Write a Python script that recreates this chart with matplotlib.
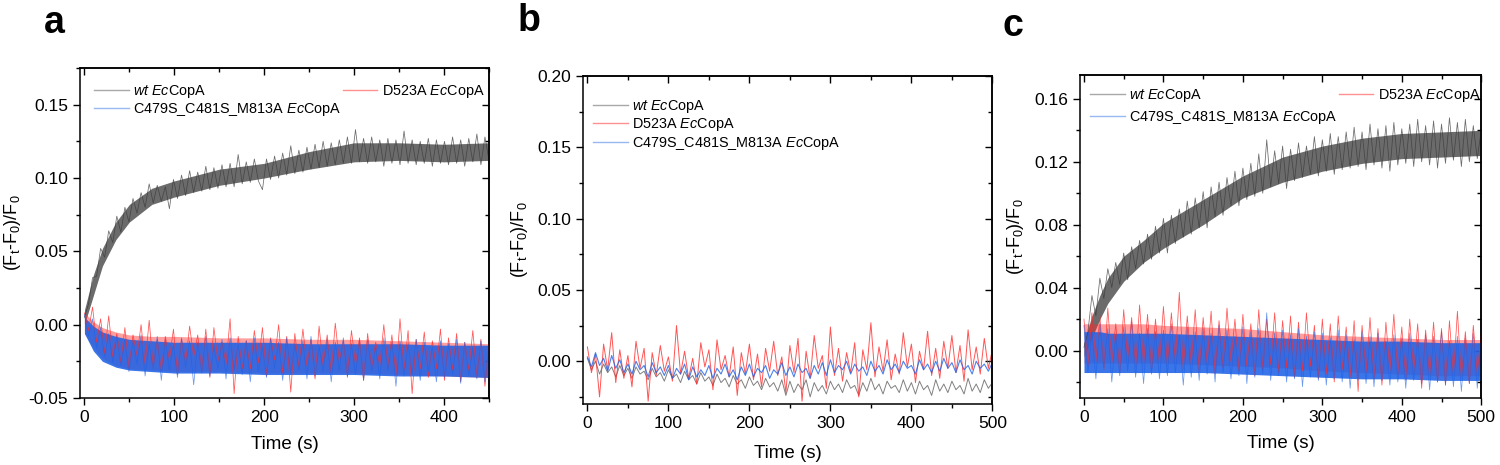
import numpy as np
import matplotlib
matplotlib.use("Agg")
import matplotlib.pyplot as plt
from matplotlib.lines import Line2D
from matplotlib.ticker import MultipleLocator, NullFormatter, FormatStrFormatter

plt.rcParams['font.family'] = ['Liberation Sans', 'DejaVu Sans']
plt.rcParams['mathtext.fontset'] = 'custom'
plt.rcParams['mathtext.rm'] = 'Liberation Sans'
plt.rcParams['mathtext.it'] = 'Liberation Sans:italic'

# ---------------- data (values in units of 1e-3) ----------------
series_names = ["wt", "D523A", "C479S_C481S_M813A"]

time_a = np.arange(0, 451, 4.5)
wt_a = [5, 14, 32, 33, 52, 46, 64, 56, 74, 63, 80, 70, 86, 76, 90, 80, 96, 83, 95, 84,
        94, 79, 99, 86, 102, 88, 105, 90, 104, 91, 108, 92, 107, 93, 109, 94, 110, 94, 116, 96,
        111, 97, 113, 98, 92, 113, 99, 115, 100, 117, 102, 122, 103, 119, 104, 121, 106, 123, 107, 125,
        108, 124, 109, 126, 110, 128, 110, 133, 111, 127, 110, 128, 111, 126, 108, 127, 110, 126, 109, 132,
        110, 126, 109, 125, 110, 127, 108, 126, 110, 125, 109, 128, 110, 126, 108, 127, 111, 130, 109, 128, 112]
d523a_a = [8, -4, 12, -12, 4, -20, 6, -22, -6, -26, -2, -30, -7, -21, 0, -27, 3, -29, -10, -32,
           -8, -24, -3, -34, -10, -26, -1, -22, -7, -32, -3, -36, -2, -25, -12, -27, 4, -47, -8, -30,
           -11, -30, -4, -26, -2, -35, -9, -24, 0, -33, -8, -46, -6, -29, -3, -28, -10, -37, -1, -28,
           -7, -33, 1, -25, -11, -35, -4, -27, -9, -38, -6, -30, -12, -28, 0, -29, -7, -35, 4, -31,
           -4, -47, -10, -30, -5, -36, -11, -30, -3, -38, -9, -31, -6, -39, -12, -31, -4, -36, -10, -42, -13]
triple_a = [7, -8, 4, -16, -2, -22, -6, -26, -8, -28,
            -10, -32, -11, -27, -7, -35, -13, -30, -8, -38,
            -10, -31, -14, -36, -9, -29, -11, -41, -12, -33,
            -8, -35, -15, -30, -10, -37, -9, -31, -13, -34,
            -11, -39, -9, -32, -15, -36, -10, -30, -12, -38,
            -9, -34, -13, -31, -11, -37, -8, -35, -15, -32,
            -10, -39, -12, -31, -9, -36, -13, -34, -11, -38,
            -10, -32, -15, -37, -9, -31, -12, -42, -11, -35,
            -13, -34, -10, -38, -12, -32, -15, -39, -11, -36,
            -13, -34, -10, -40, -12, -35, -16, -37, -11, -39, -15]
band_t_a = [0, 10, 20, 35, 50, 75, 100, 150, 200, 250, 300, 350, 400, 450]
wt_a_lo = [0, 20, 40, 58, 70, 82, 87, 95, 100, 106, 111, 112, 111, 112]
wt_a_hi = [10, 34, 52, 70, 82, 93, 98, 106, 110, 118, 124, 124, 123, 124]
d523a_a_lo = [-6, -16, -23, -28, -30, -31, -32, -32, -33, -33, -33, -34, -35, -36]
d523a_a_hi = [8, 2, -2, -5, -7, -8, -8, -9, -9, -10, -10, -11, -12, -13]
triple_a_lo = [-6, -18, -25, -29, -31, -32, -33, -33, -34, -34, -34, -35, -35, -36]
triple_a_hi = [5, -1, -5, -8, -10, -11, -12, -12, -12, -13, -13, -13, -14, -14]

time_b = np.arange(0, 501, 5)
wt_b = [2, -6, 0, -9, -2, -8, -4, -11, -3, -10,
        -5, -12, -4, -9, -7, -13, -5, -11, -8, -14,
        -6, -12, -9, -15, -7, -13, -10, -16, -8, -14,
        -11, -17, -9, -15, -12, -18, -10, -16, -13, -19,
        -11, -17, -14, -20, -12, -18, -15, -21, -13, -24,
        -14, -22, -16, -20, -13, -25, -15, -21, -17, -23,
        -14, -20, -16, -22, -13, -19, -17, -24, -15, -21,
        -12, -20, -16, -23, -14, -19, -17, -22, -13, -21,
        -15, -23, -14, -20, -17, -24, -13, -21, -16, -22,
        -14, -20, -17, -23, -12, -21, -16, -22, -13, -19, -15]
d523a_b = [10, -8, 5, -25, 12, -6, 20, -15, 8, -12,
           4, -18, 14, -5, 9, -28, 6, -10, 11, -7,
           3, -14, 25, -9, 7, -12, 2, -16, 13, -4,
           8, -20, 15, -6, 4, -11, 10, -24, 6, -9,
           12, -13, 5, -18, 9, -7, 14, -10, 3, -22,
           11, -8, 16, -28, 7, -12, 18, -5, 4, -19,
           24, -10, 9, -14, 6, -8, 13, -25, 8, -6,
           27, -11, 10, -7, 15, -13, 5, -9, 20, -4,
           12, -15, 7, -6, 21, -10, 9, -12, 14, -5,
           18, -8, 11, -14, 22, -6, 10, -9, 16, -5, 8]
triple_b = [3, -4, 6, -3, 2, -7, 4, -5, 1, -8,
            -2, -9, 0, -6, -3, -11, -1, -8, -4, -10,
            -3, -12, -5, -9, -2, -13, -4, -11, -6, -10,
            -3, -12, -5, -9, -2, -11, -6, -13, -4, -10,
            -2, -11, -5, -8, -3, -12, -6, -9, -1, -10,
            -4, -11, -2, -8, -5, -12, -3, -9, -1, -10,
            1, -8, -3, -6, 0, -9, -2, -7, -4, -10,
            0, -7, -3, -9, 1, -6, -2, -8, 0, -5,
            -3, -9, 1, -6, -2, -8, 0, -7, 2, -5,
            -1, -8, 1, -6, -3, -9, 0, -5, -2, -7, -1]

time_c = np.arange(0, 501, 5)
wt_c = [2, 12, 35, 22, 46, 33, 52, 40, 56, 42,
        62, 45, 66, 52, 70, 55, 74, 58, 79, 62,
        84, 62, 86, 68, 90, 72, 95, 74, 97, 78,
        101, 78, 104, 85, 107, 86, 110, 92, 114, 92,
        116, 96, 119, 98, 125, 100, 134, 104, 127, 106,
        130, 103, 128, 108, 132, 110, 130, 112, 136, 111,
        134, 114, 138, 112, 136, 115, 139, 116, 142, 117,
        139, 115, 144, 118, 141, 116, 143, 114, 145, 118,
        141, 119, 144, 117, 147, 120, 143, 118, 146, 116,
        144, 119, 148, 121, 145, 117, 147, 120, 143, 122, 140]
d523a_c = [20, -10, 24, -7, 22, -12, 27, -8, 17, -14,
           26, -6, 21, -11, 29, -9, 23, -13, 20, -8,
           28, -10, 24, -7, 37, -12, 22, -9, 26, -14,
           21, -8, 25, -15, 19, -11, 27, -7, 20, -13,
           23, -10, 17, -16, 26, -12, 20, -9, 24, -14,
           19, -11, 22, -17, 18, -13, 24, -10, 16, -18,
           20, -15, 17, -20, 22, -12, 15, -17, 19, -26,
           16, -14, 21, -18, 14, -22, 18, -13, 23, -16,
           15, -19, 20, -14, 17, -24, 13, -17, 18, -20,
           14, -22, 19, -16, 25, -18, 12, -21, 16, -15, 11]
triple_c = [16, -14, 12, -18, 17, -11, 14, -20, 10, -16,
            15, -13, 18, -17, 11, -21, 14, -15, 12, -18,
            13, -16, 17, -14, 10, -22, 15, -17, 12, -19,
            14, -15, 11, -20, 16, -14, 13, -18, 9, -16,
            15, -21, 12, -17, 14, -15, 24, -19, 11, -16,
            13, -20, 10, -18, 14, -23, 9, -17, 12, -19,
            11, -22, 8, -18, 13, -20, 10, -24, 7, -19,
            12, -21, 9, -23, 11, -19, 6, -22, 10, -20,
            8, -24, 11, -19, 7, -21, 10, -25, 9, -20,
            12, -22, 6, -23, 9, -26, 8, -21, 11, -24, 7]
band_t_c = [0, 10, 20, 30, 50, 75, 100, 150, 200, 250, 300, 350, 400, 450, 500]
wt_c_lo = [-4, 8, 20, 30, 44, 56, 65, 80, 97, 107, 114, 119, 122, 123, 124]
wt_c_hi = [5, 22, 35, 46, 60, 70, 81, 96, 111, 123, 130, 135, 138, 139, 140]
d523a_c_lo = [-8, -8, -8, -8, -8, -8, -8, -9, -10, -11, -13, -14, -15, -16, -16]
d523a_c_hi = [17, 17, 17, 17, 17, 17, 16, 15, 14, 12, 10, 9, 8, 7, 7]
triple_c_lo = [-14, -14, -14, -14, -14, -14, -14, -14, -15, -16, -17, -18, -18, -19, -19]
triple_c_hi = [12, 12, 12, 11, 11, 11, 11, 10, 9, 8, 7, 6, 6, 5, 5]

S = 1e-3
GRAY, RED, BLUE = "#3a3a3a", "#ff2a2a", "#1e62e6"
labels = [r"$\it{wt}$ $\it{Ec}$CopA", r"D523A $\it{Ec}$CopA", r"C479S_C481S_M813A $\it{Ec}$CopA"]

fig = plt.figure(figsize=(15, 4.65), dpi=100)
pos = {
    'a': [0.0533, 0.1441, 0.2727, 0.7097],
    'b': [0.3889, 0.1312, 0.2727, 0.7054],
    'c': [0.7200, 0.1447, 0.2675, 0.6934],
}

def style(ax, xmaj, xmin, ymaj, ymin, yfmt):
    for sp in ax.spines.values():
        sp.set_linewidth(1.1)
    ax.xaxis.set_major_locator(MultipleLocator(xmaj))
    ax.xaxis.set_minor_locator(MultipleLocator(xmin))
    ax.yaxis.set_major_locator(MultipleLocator(ymaj))
    ax.yaxis.set_minor_locator(MultipleLocator(ymin))
    ax.yaxis.set_major_formatter(FormatStrFormatter(yfmt))
    ax.tick_params(which='major', direction='out', length=5, width=1.0, labelsize=12.5)
    ax.tick_params(which='minor', direction='out', length=3, width=1.0)
    sx = ax.secondary_xaxis('top')
    sy = ax.secondary_yaxis('right')
    for sa, axis in ((sx, sx.xaxis), (sy, sy.yaxis)):
        axis.set_major_locator(MultipleLocator(xmaj if sa is sx else ymaj))
        axis.set_minor_locator(MultipleLocator(xmin if sa is sx else ymin))
        axis.set_major_formatter(NullFormatter())
        sa.tick_params(which='major', direction='in', length=5, width=1.0)
        sa.tick_params(which='minor', direction='in', length=3, width=1.0)
        for sp in sa.spines.values():
            sp.set_linewidth(1.1)
    ax.set_xlabel("Time (s)", fontsize=13.5)
    ax.set_ylabel(r"(F$_\mathrm{t}$-F$_\mathrm{0}$)/F$_\mathrm{0}$", fontsize=13)

def legend_handles():
    return [Line2D([], [], color="#a8a8a8", lw=1.0),
            Line2D([], [], color="#ff9090", lw=1.0),
            Line2D([], [], color="#98b8f2", lw=1.0)]

def noisy_panel(ax, t, band_t, wt, wt_lo, wt_hi, red, red_lo, red_hi, blue, blue_lo, blue_hi):
    ax.fill_between(band_t, np.array(wt_lo) * S, np.array(wt_hi) * S, color=GRAY, lw=0, alpha=0.75)
    ax.plot(t, np.array(wt) * S, color=GRAY, lw=0.55, alpha=0.75)
    ax.fill_between(band_t, np.array(red_lo) * S, np.array(red_hi) * S, color=RED, lw=0, alpha=0.45)
    ax.plot(t, np.array(red) * S, color=RED, lw=0.55, alpha=0.8)
    ax.fill_between(band_t, np.array(blue_lo) * S, np.array(blue_hi) * S, color=BLUE, lw=0, alpha=0.88)
    ax.plot(t, np.array(blue) * S, color=BLUE, lw=0.55, alpha=0.65)

# ---------- panel a ----------
ax = fig.add_axes(pos['a'])
noisy_panel(ax, time_a, band_t_a, wt_a, wt_a_lo, wt_a_hi, d523a_a, d523a_a_lo, d523a_a_hi,
            triple_a, triple_a_lo, triple_a_hi)
ax.set_xlim(-5, 450)
ax.set_ylim(-0.05, 0.175)
style(ax, 100, 50, 0.05, 0.025, '%.2f')
h = legend_handles()
ax.legend([h[0], h[2], h[1]], [labels[0], labels[2], labels[1]], ncol=2, frameon=False,
          fontsize=10.4, loc='upper left', bbox_to_anchor=(0.01, 0.985), handlelength=2.4,
          handletextpad=0.3, columnspacing=0.1, labelspacing=0.1, borderaxespad=0.3)
ax.xaxis.set_label_coords(0.5, -0.115)
ax.yaxis.set_label_coords(-0.14, 0.5)
fig.text(0.029, 0.95, "a", fontsize=27, fontweight='bold', ha='left', va='center')

# ---------- panel b ----------
ax = fig.add_axes(pos['b'])
ax.plot(time_b, np.array(wt_b) * S, color="#6a6a6a", lw=0.7, alpha=0.85)
ax.plot(time_b, np.array(d523a_b) * S, color=RED, lw=0.7, alpha=0.8)
ax.plot(time_b, np.array(triple_b) * S, color=BLUE, lw=0.8, alpha=0.8)
ax.set_xlim(-5, 500)
ax.set_ylim(-0.03, 0.20)
style(ax, 100, 50, 0.05, 0.025, '%.2f')
h = legend_handles()
ax.legend(h, labels, ncol=1, frameon=False, fontsize=10.4, loc='upper left',
          bbox_to_anchor=(0.0, 0.965), handlelength=2.4, handletextpad=0.3,
          labelspacing=0.12, borderaxespad=0.3)
ax.xaxis.set_label_coords(0.5, -0.125)
ax.yaxis.set_label_coords(-0.13, 0.5)
fig.text(0.345, 0.955, "b", fontsize=27, fontweight='bold', ha='left', va='center')

# ---------- panel c ----------
ax = fig.add_axes(pos['c'])
noisy_panel(ax, time_c, band_t_c, wt_c, wt_c_lo, wt_c_hi, d523a_c, d523a_c_lo, d523a_c_hi,
            triple_c, triple_c_lo, triple_c_hi)
ax.set_xlim(-5, 500)
ax.set_ylim(-0.03, 0.175)
style(ax, 100, 50, 0.04, 0.02, '%.2f')
h = legend_handles()
ax.legend([h[0], h[2], h[1]], [labels[0], labels[2], labels[1]], ncol=2, frameon=False,
          fontsize=10.4, loc='upper left', bbox_to_anchor=(0.0, 0.995), handlelength=2.4,
          handletextpad=0.3, columnspacing=0.1, labelspacing=0.35, borderaxespad=0.3)
ax.xaxis.set_label_coords(0.5, -0.115)
ax.yaxis.set_label_coords(-0.135, 0.5)
fig.text(0.668, 0.945, "c", fontsize=27, fontweight='bold', ha='left', va='center')

fig.savefig("out.png", dpi=100)
